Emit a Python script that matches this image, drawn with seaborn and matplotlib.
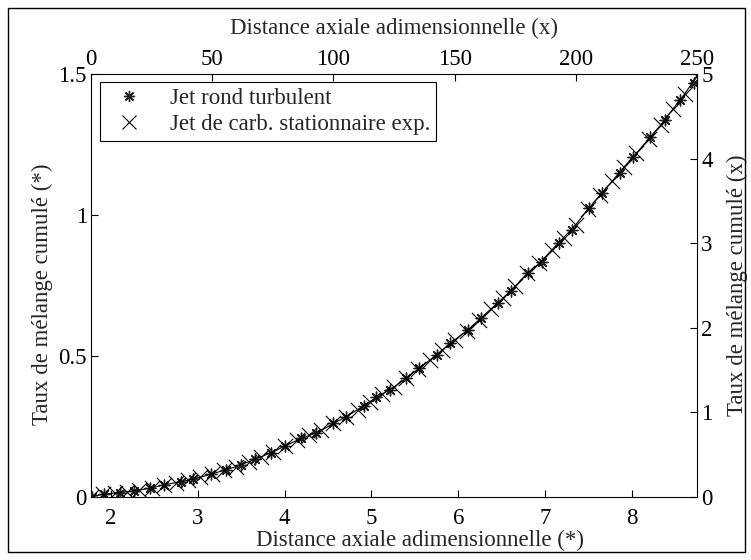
import matplotlib
matplotlib.use("Agg")
import matplotlib.pyplot as plt
from matplotlib.lines import Line2D
from matplotlib.patches import Rectangle
import pandas as pd
import seaborn as sns

# Series "*" : round turbulent jet (bottom / left axes)
star_x = [1.78, 1.92, 2.10, 2.26, 2.45, 2.61, 2.81, 2.95, 3.15, 3.32, 3.50,
          3.66, 3.84, 4.00, 4.19, 4.36, 4.56, 4.71, 4.91, 5.05, 5.21, 5.40,
          5.55, 5.75, 5.91, 6.11, 6.26, 6.46, 6.61, 6.80, 6.96, 7.16, 7.31,
          7.51, 7.66, 7.86, 8.01, 8.21, 8.38, 8.55, 8.71]
star_y = [0.001, 0.011, 0.015, 0.022, 0.031, 0.043, 0.054, 0.063, 0.080,
          0.096, 0.113, 0.134, 0.155, 0.181, 0.208, 0.226, 0.261, 0.285,
          0.323, 0.353, 0.379, 0.421, 0.456, 0.504, 0.545, 0.592, 0.634,
          0.689, 0.732, 0.793, 0.834, 0.902, 0.947, 1.024, 1.077, 1.148,
          1.205, 1.276, 1.337, 1.408, 1.467]

# Series "x" : steady fuel jet, experiment (top / right axes)
cross_x = [0, 5, 10, 15, 20, 25, 30, 35, 40, 45, 50, 55, 60, 65, 70, 75, 80,
           85, 90, 95, 100, 105, 110, 115, 120, 125, 130, 135, 140, 145, 150,
           155, 160, 165, 170, 175, 180, 185, 190, 195, 200, 205, 210, 215,
           220, 225, 230, 235, 240, 245, 250]
cross_y = [0.000, 0.033, 0.047, 0.063, 0.083, 0.107, 0.143, 0.170, 0.197,
           0.233, 0.273, 0.317, 0.360, 0.417, 0.473, 0.533, 0.603, 0.670,
           0.727, 0.787, 0.870, 0.943, 1.033, 1.127, 1.213, 1.300, 1.403,
           1.513, 1.623, 1.740, 1.857, 1.963, 2.093, 2.223, 2.353, 2.493,
           2.643, 2.763, 2.917, 3.067, 3.220, 3.400, 3.567, 3.733, 3.903,
           4.063, 4.230, 4.397, 4.583, 4.767, 4.980]

bottom_ticks = [2, 3, 4, 5, 6, 7, 8]
left_ticks = [0, 0.5, 1, 1.5]
left_ticklabels = ["0", "0.5", "1", "1.5"]
top_ticks = [0, 50, 100, 150, 200, 250]
right_ticks = [0, 1, 2, 3, 4, 5]

label_star = "Jet rond turbulent"
label_cross = "Jet de carb. stationnaire exp."
xlabel_bottom = "Distance axiale adimensionnelle (*)"
xlabel_top = "Distance axiale adimensionnelle (x)"
ylabel_left = "Taux de mélange cumulé (*)"
ylabel_right = "Taux de mélange cumulé (x)"

sns.set_style("white")
plt.rcParams["font.family"] = ["Liberation Serif", "DejaVu Serif"]
FS = 16.5

star_df = pd.DataFrame({"x": star_x, "y": star_y})
cross_df = pd.DataFrame({"x": cross_x, "y": cross_y})

fig = plt.figure(figsize=(7.51, 5.60), dpi=100)
pos = [91 / 751, 63 / 560, 606 / 751, 423 / 560]
ax = fig.add_axes(pos)
ax2 = fig.add_axes(pos)
ax2.patch.set_visible(False)

asterisk = (8, 2, 0)

sns.scatterplot(data=star_df, x="x", y="y", ax=ax, marker=asterisk, s=60,
                color="#222222", linewidth=1.0, legend=False, zorder=3)

sns.lineplot(data=cross_df, x="x", y="y", ax=ax2, color="black",
             linewidth=0.8, legend=False, sort=False, estimator=None)
sns.scatterplot(data=cross_df, x="x", y="y", ax=ax2, marker="x", s=120,
                color="black", linewidth=0.8, legend=False, zorder=3)

ax.set_xlim(1.77, 8.75)
ax.set_ylim(0, 1.5)
ax2.set_xlim(0, 250)
ax2.set_ylim(0, 5)

ax.set_xticks(bottom_ticks)
ax.set_yticks(left_ticks)
ax.set_yticklabels(left_ticklabels)
ax2.set_xticks(top_ticks)
ax2.set_yticks(right_ticks)

ax.xaxis.set_ticks_position("bottom")
ax.yaxis.set_ticks_position("left")
ax2.xaxis.tick_top()
ax2.yaxis.tick_right()
ax2.xaxis.set_label_position("top")
ax2.yaxis.set_label_position("right")

for a in (ax, ax2):
    a.tick_params(direction="in", length=5, width=0.8, colors="black",
                  labelsize=FS, pad=3)
    for s in a.spines.values():
        s.set_color("black")
        s.set_linewidth(0.8)
ax.tick_params(axis="x", pad=8)

ax.spines["top"].set_visible(False)
ax.spines["right"].set_visible(False)
ax2.spines["bottom"].set_visible(False)
ax2.spines["left"].set_visible(False)

ax.set_xlabel(xlabel_bottom, fontsize=FS, va="top")
ax.set_ylabel(ylabel_left, fontsize=FS)
ax2.set_xlabel(xlabel_top, fontsize=FS, labelpad=11)
ax2.set_ylabel(ylabel_right, fontsize=FS, labelpad=10)
ax.xaxis.set_label_coords(0.543, -0.078)
ax.yaxis.set_label_coords(-0.062, 0.48)

handles = [
    Line2D([], [], linestyle="none", marker=asterisk, markersize=8,
           color="#222222", markeredgewidth=1.0),
    Line2D([], [], linestyle="none", marker="x", markersize=10,
           color="black", markeredgewidth=0.8),
]
leg = ax2.legend(handles, [label_star, label_cross], loc="upper left",
                 bbox_to_anchor=(0.015, 0.98), fontsize=FS, frameon=True,
                 fancybox=False, edgecolor="black", framealpha=1,
                 borderpad=0.25, handletextpad=0.8, labelspacing=0.2,
                 handlelength=2.0, borderaxespad=0)
leg.get_frame().set_linewidth(0.8)

# outer frame around the figure
fig.patches.append(Rectangle((8 / 751, 8 / 560), 737 / 751, 544 / 560,
                             transform=fig.transFigure, fill=False,
                             edgecolor="black", linewidth=1.0))

fig.savefig("out.png", dpi=100)
